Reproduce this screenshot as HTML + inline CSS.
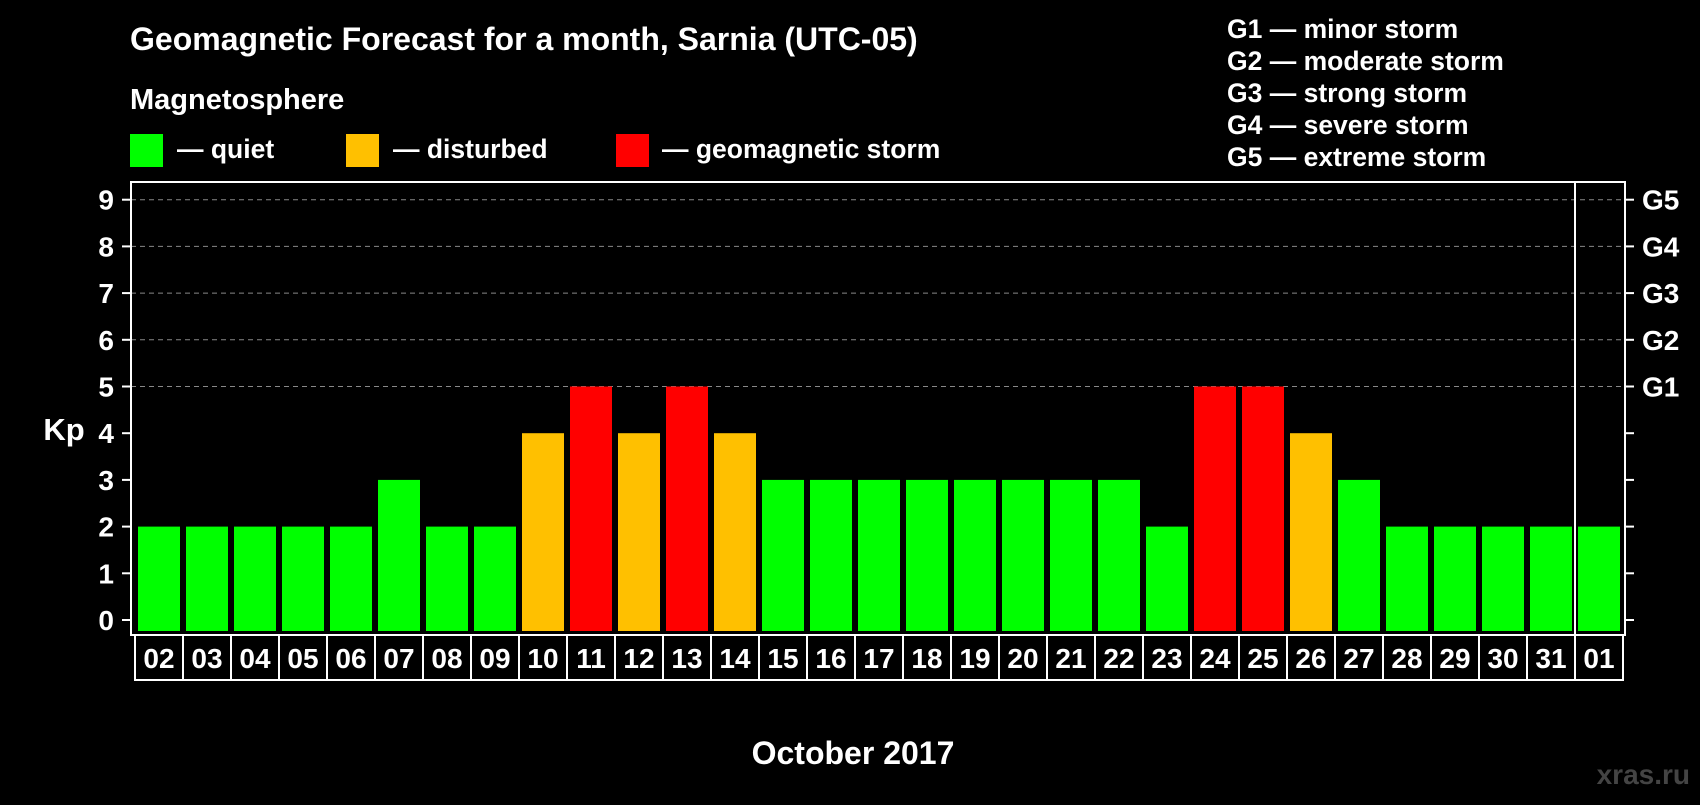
<!DOCTYPE html>
<html><head><meta charset="utf-8"><style>
body{margin:0;background:#000;width:1700px;height:800px;overflow:hidden;font-family:"Liberation Sans",sans-serif;font-weight:bold;color:#fff}
svg text{font-family:"Liberation Sans",sans-serif;font-weight:bold;fill:#fff}
</style></head><body>
<svg width="1700" height="800">
<text x="130" y="50" font-size="32">Geomagnetic Forecast for a month, Sarnia (UTC-05)</text>
<text x="130" y="109" font-size="29">Magnetosphere</text>
<g><rect x="130" y="134" width="33" height="33" fill="#00ff00"/><text x="177" y="158" font-size="26.5">— quiet</text></g>
<g><rect x="346" y="134" width="33" height="33" fill="#ffc000"/><text x="393" y="158" font-size="26.5">— disturbed</text></g>
<g><rect x="616" y="134" width="33" height="33" fill="#ff0000"/><text x="662" y="158" font-size="26.5">— geomagnetic storm</text></g>
<g font-size="26.5">
<text x="1227" y="38">G1 — minor storm</text>
<text x="1227" y="70">G2 — moderate storm</text>
<text x="1227" y="102">G3 — strong storm</text>
<text x="1227" y="134">G4 — severe storm</text>
<text x="1227" y="166">G5 — extreme storm</text>
</g>
<text x="64" y="440" font-size="31" text-anchor="middle">Kp</text>
<text x="853" y="764" font-size="32" text-anchor="middle">October 2017</text>
<text x="1690" y="784" font-size="28" text-anchor="end" style="fill:#444">xras.ru</text>
<g id="plot"></g>
</svg>
<script>
const days=["02","03","04","05","06","07","08","09","10","11","12","13","14","15","16","17","18","19","20","21","22","23","24","25","26","27","28","29","30","31","01"];
const kp=[2,2,2,2,2,3,2,2,4,5,4,5,4,3,3,3,3,3,3,3,3,2,5,5,4,3,2,2,2,2,2];
const yTicks=[0,1,2,3,4,5,6,7,8,9];
const gLabels=["G1","G2","G3","G4","G5"];
const NS="http://www.w3.org/2000/svg";
const g=document.getElementById('plot');
const X0=131,X1=1625,Y0=620,PY=46.7,PITCH=48,BX=138,BW=42;
const y=v=>Y0-v*PY, x=i=>BX+i*PITCH;
function mk(t,a,p){const e=document.createElementNS(NS,t);for(const k in a)e.setAttribute(k,a[k]);(p||g).appendChild(e);return e;}
yTicks.forEach(v=>{
 if(v>=5){const l=mk('line',{x1:X0,x2:X1,y1:y(v),y2:y(v),stroke:'#888','stroke-dasharray':'5,4','stroke-width':1});
 
 }
 mk('line',{x1:X0-9,x2:X0,y1:y(v),y2:y(v),stroke:'#fff','stroke-width':2});
 mk('line',{x1:X1,x2:X1+9,y1:y(v),y2:y(v),stroke:'#fff','stroke-width':2});
 const t=mk('text',{x:114,y:y(v)+10,'font-size':28,'text-anchor':'end'});t.textContent=v;
 
 
});
gLabels.forEach((s,i)=>{const t=mk('text',{x:1642,y:y(5+i)+10,'font-size':28});t.textContent=s;
 
 });
kp.forEach((v,i)=>{
 const c=v>=5?'#ff0000':v>=4?'#ffc000':'#00ff00';
 const r=mk('rect',{x:x(i),y:y(v),width:BW,height:Y0+11-y(v),fill:c});
 
 
 const b=mk('rect',{x:x(i)-3,y:635,width:48,height:45,fill:'none',stroke:'#fff','stroke-width':2});
 
 
 const t=mk('text',{x:x(i)+BW/2,y:668,'font-size':28,'text-anchor':'middle'});t.textContent=days[i];
 
 
});
const f=mk('rect',{x:X0,y:182,width:X1-X0,height:453,fill:'none',stroke:'#fff','stroke-width':2});


const d=mk('line',{x1:1575,x2:1575,y1:182,y2:635,stroke:'#fff','stroke-width':2});


</script>
</body></html>
